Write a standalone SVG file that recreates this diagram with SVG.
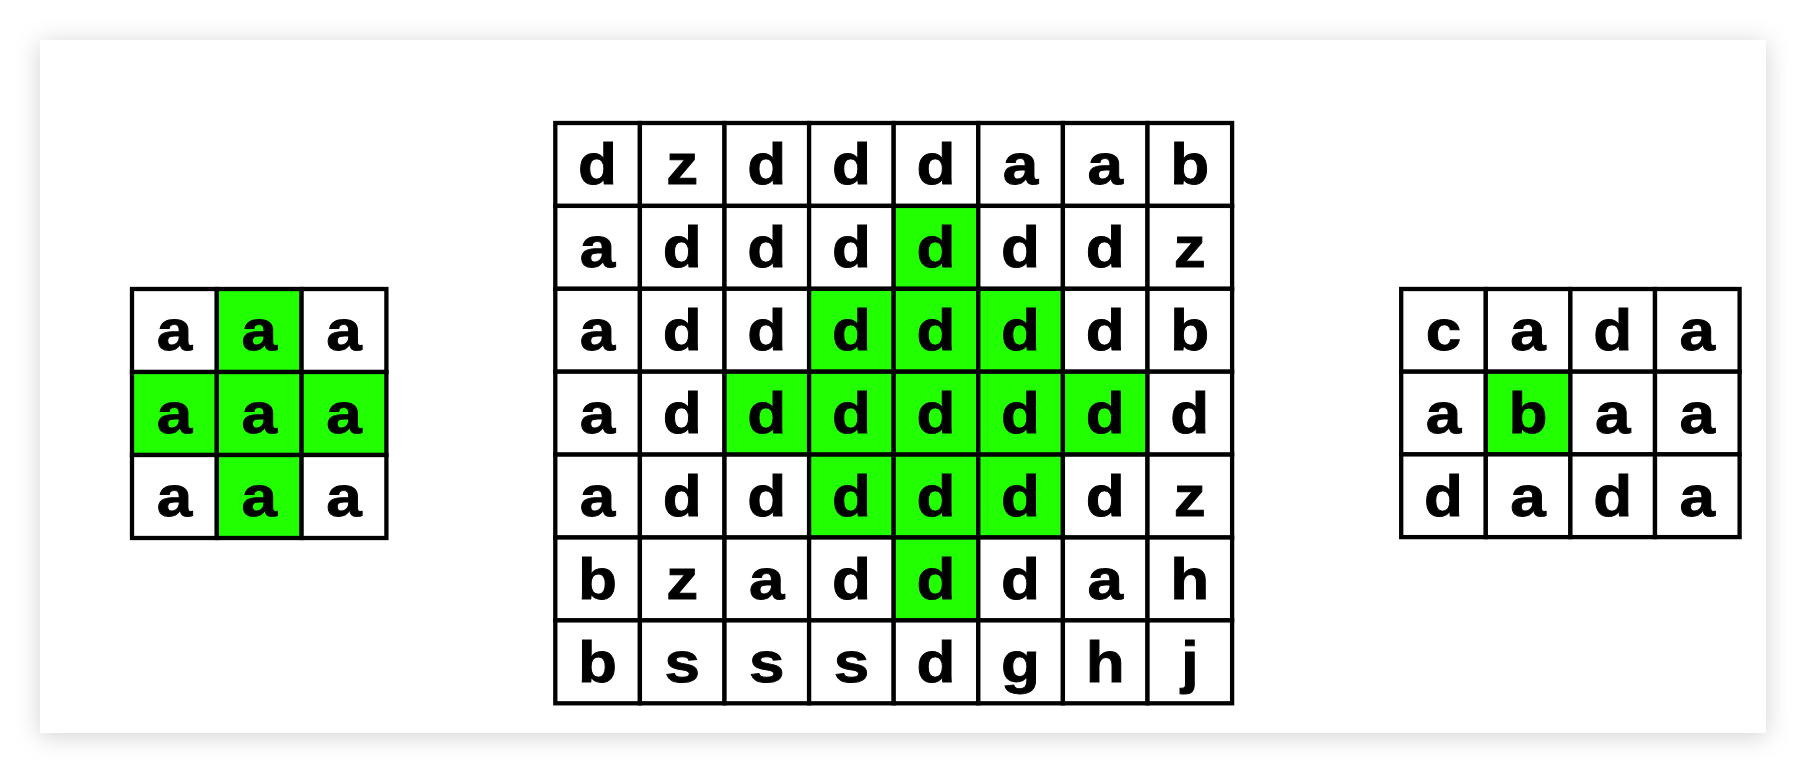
<svg xmlns="http://www.w3.org/2000/svg" width="1806" height="774" viewBox="0 0 1806 774">
<style>
.c{fill:#fff;stroke:#000;stroke-width:4.3}
.g{fill:#22ff00;stroke:#000;stroke-width:4.3}
.t{font-family:"Liberation Sans",Arial,sans-serif;font-weight:bold;font-size:58px;text-anchor:middle;fill:#000;stroke:#000;stroke-width:0.9;transform:scale(1.1,1)}
</style>
<defs>
<filter id="sh" x="-5%" y="-10%" width="110%" height="120%">
<feDropShadow dx="0" dy="3" stdDeviation="12" flood-color="#000" flood-opacity="0.18"/>
</filter>
</defs>
<rect width="1806" height="774" fill="#fff"/>
<rect id="card" x="40" y="40" width="1726" height="693" fill="#fff" filter="url(#sh)"/>
<g id="left-grid">
<g id="L-r0c0"><rect class="c" x="132" y="289" width="84.8" height="83"/><text class="t" x="158.55" y="350.5">a</text></g>
<g id="L-r0c1"><rect class="g" x="216.8" y="289" width="84.8" height="83"/><text class="t" x="235.64" y="350.5">a</text></g>
<g id="L-r0c2"><rect class="c" x="301.6" y="289" width="84.8" height="83"/><text class="t" x="312.73" y="350.5">a</text></g>
<g id="L-r1c0"><rect class="g" x="132" y="372" width="84.8" height="83"/><text class="t" x="158.55" y="433.5">a</text></g>
<g id="L-r1c1"><rect class="g" x="216.8" y="372" width="84.8" height="83"/><text class="t" x="235.64" y="433.5">a</text></g>
<g id="L-r1c2"><rect class="g" x="301.6" y="372" width="84.8" height="83"/><text class="t" x="312.73" y="433.5">a</text></g>
<g id="L-r2c0"><rect class="c" x="132" y="455" width="84.8" height="83"/><text class="t" x="158.55" y="516.5">a</text></g>
<g id="L-r2c1"><rect class="g" x="216.8" y="455" width="84.8" height="83"/><text class="t" x="235.64" y="516.5">a</text></g>
<g id="L-r2c2"><rect class="c" x="301.6" y="455" width="84.8" height="83"/><text class="t" x="312.73" y="516.5">a</text></g>
</g>
<g id="middle-grid">
<g id="M-r0c0"><rect class="c" x="555.3" y="123" width="84.6" height="82.9"/><text class="t" x="543.27" y="184.5">d</text></g>
<g id="M-r0c1"><rect class="c" x="639.9" y="123" width="84.6" height="82.9"/><text class="t" x="620.18" y="184.5">z</text></g>
<g id="M-r0c2"><rect class="c" x="724.5" y="123" width="84.6" height="82.9"/><text class="t" x="697.09" y="184.5">d</text></g>
<g id="M-r0c3"><rect class="c" x="809.1" y="123" width="84.6" height="82.9"/><text class="t" x="774" y="184.5">d</text></g>
<g id="M-r0c4"><rect class="c" x="893.7" y="123" width="84.6" height="82.9"/><text class="t" x="850.91" y="184.5">d</text></g>
<g id="M-r0c5"><rect class="c" x="978.3" y="123" width="84.6" height="82.9"/><text class="t" x="927.82" y="184.5">a</text></g>
<g id="M-r0c6"><rect class="c" x="1062.9" y="123" width="84.6" height="82.9"/><text class="t" x="1004.73" y="184.5">a</text></g>
<g id="M-r0c7"><rect class="c" x="1147.5" y="123" width="84.6" height="82.9"/><text class="t" x="1081.64" y="184.5">b</text></g>
<g id="M-r1c0"><rect class="c" x="555.3" y="205.9" width="84.6" height="82.9"/><text class="t" x="543.27" y="267.4">a</text></g>
<g id="M-r1c1"><rect class="c" x="639.9" y="205.9" width="84.6" height="82.9"/><text class="t" x="620.18" y="267.4">d</text></g>
<g id="M-r1c2"><rect class="c" x="724.5" y="205.9" width="84.6" height="82.9"/><text class="t" x="697.09" y="267.4">d</text></g>
<g id="M-r1c3"><rect class="c" x="809.1" y="205.9" width="84.6" height="82.9"/><text class="t" x="774" y="267.4">d</text></g>
<g id="M-r1c4"><rect class="g" x="893.7" y="205.9" width="84.6" height="82.9"/><text class="t" x="850.91" y="267.4">d</text></g>
<g id="M-r1c5"><rect class="c" x="978.3" y="205.9" width="84.6" height="82.9"/><text class="t" x="927.82" y="267.4">d</text></g>
<g id="M-r1c6"><rect class="c" x="1062.9" y="205.9" width="84.6" height="82.9"/><text class="t" x="1004.73" y="267.4">d</text></g>
<g id="M-r1c7"><rect class="c" x="1147.5" y="205.9" width="84.6" height="82.9"/><text class="t" x="1081.64" y="267.4">z</text></g>
<g id="M-r2c0"><rect class="c" x="555.3" y="288.8" width="84.6" height="82.9"/><text class="t" x="543.27" y="350.3">a</text></g>
<g id="M-r2c1"><rect class="c" x="639.9" y="288.8" width="84.6" height="82.9"/><text class="t" x="620.18" y="350.3">d</text></g>
<g id="M-r2c2"><rect class="c" x="724.5" y="288.8" width="84.6" height="82.9"/><text class="t" x="697.09" y="350.3">d</text></g>
<g id="M-r2c3"><rect class="g" x="809.1" y="288.8" width="84.6" height="82.9"/><text class="t" x="774" y="350.3">d</text></g>
<g id="M-r2c4"><rect class="g" x="893.7" y="288.8" width="84.6" height="82.9"/><text class="t" x="850.91" y="350.3">d</text></g>
<g id="M-r2c5"><rect class="g" x="978.3" y="288.8" width="84.6" height="82.9"/><text class="t" x="927.82" y="350.3">d</text></g>
<g id="M-r2c6"><rect class="c" x="1062.9" y="288.8" width="84.6" height="82.9"/><text class="t" x="1004.73" y="350.3">d</text></g>
<g id="M-r2c7"><rect class="c" x="1147.5" y="288.8" width="84.6" height="82.9"/><text class="t" x="1081.64" y="350.3">b</text></g>
<g id="M-r3c0"><rect class="c" x="555.3" y="371.7" width="84.6" height="82.9"/><text class="t" x="543.27" y="433.2">a</text></g>
<g id="M-r3c1"><rect class="c" x="639.9" y="371.7" width="84.6" height="82.9"/><text class="t" x="620.18" y="433.2">d</text></g>
<g id="M-r3c2"><rect class="g" x="724.5" y="371.7" width="84.6" height="82.9"/><text class="t" x="697.09" y="433.2">d</text></g>
<g id="M-r3c3"><rect class="g" x="809.1" y="371.7" width="84.6" height="82.9"/><text class="t" x="774" y="433.2">d</text></g>
<g id="M-r3c4"><rect class="g" x="893.7" y="371.7" width="84.6" height="82.9"/><text class="t" x="850.91" y="433.2">d</text></g>
<g id="M-r3c5"><rect class="g" x="978.3" y="371.7" width="84.6" height="82.9"/><text class="t" x="927.82" y="433.2">d</text></g>
<g id="M-r3c6"><rect class="g" x="1062.9" y="371.7" width="84.6" height="82.9"/><text class="t" x="1004.73" y="433.2">d</text></g>
<g id="M-r3c7"><rect class="c" x="1147.5" y="371.7" width="84.6" height="82.9"/><text class="t" x="1081.64" y="433.2">d</text></g>
<g id="M-r4c0"><rect class="c" x="555.3" y="454.6" width="84.6" height="82.9"/><text class="t" x="543.27" y="516.1">a</text></g>
<g id="M-r4c1"><rect class="c" x="639.9" y="454.6" width="84.6" height="82.9"/><text class="t" x="620.18" y="516.1">d</text></g>
<g id="M-r4c2"><rect class="c" x="724.5" y="454.6" width="84.6" height="82.9"/><text class="t" x="697.09" y="516.1">d</text></g>
<g id="M-r4c3"><rect class="g" x="809.1" y="454.6" width="84.6" height="82.9"/><text class="t" x="774" y="516.1">d</text></g>
<g id="M-r4c4"><rect class="g" x="893.7" y="454.6" width="84.6" height="82.9"/><text class="t" x="850.91" y="516.1">d</text></g>
<g id="M-r4c5"><rect class="g" x="978.3" y="454.6" width="84.6" height="82.9"/><text class="t" x="927.82" y="516.1">d</text></g>
<g id="M-r4c6"><rect class="c" x="1062.9" y="454.6" width="84.6" height="82.9"/><text class="t" x="1004.73" y="516.1">d</text></g>
<g id="M-r4c7"><rect class="c" x="1147.5" y="454.6" width="84.6" height="82.9"/><text class="t" x="1081.64" y="516.1">z</text></g>
<g id="M-r5c0"><rect class="c" x="555.3" y="537.5" width="84.6" height="82.9"/><text class="t" x="543.27" y="599">b</text></g>
<g id="M-r5c1"><rect class="c" x="639.9" y="537.5" width="84.6" height="82.9"/><text class="t" x="620.18" y="599">z</text></g>
<g id="M-r5c2"><rect class="c" x="724.5" y="537.5" width="84.6" height="82.9"/><text class="t" x="697.09" y="599">a</text></g>
<g id="M-r5c3"><rect class="c" x="809.1" y="537.5" width="84.6" height="82.9"/><text class="t" x="774" y="599">d</text></g>
<g id="M-r5c4"><rect class="g" x="893.7" y="537.5" width="84.6" height="82.9"/><text class="t" x="850.91" y="599">d</text></g>
<g id="M-r5c5"><rect class="c" x="978.3" y="537.5" width="84.6" height="82.9"/><text class="t" x="927.82" y="599">d</text></g>
<g id="M-r5c6"><rect class="c" x="1062.9" y="537.5" width="84.6" height="82.9"/><text class="t" x="1004.73" y="599">a</text></g>
<g id="M-r5c7"><rect class="c" x="1147.5" y="537.5" width="84.6" height="82.9"/><text class="t" x="1081.64" y="599">h</text></g>
<g id="M-r6c0"><rect class="c" x="555.3" y="620.4" width="84.6" height="82.9"/><text class="t" x="543.27" y="681.9">b</text></g>
<g id="M-r6c1"><rect class="c" x="639.9" y="620.4" width="84.6" height="82.9"/><text class="t" x="620.18" y="681.9">s</text></g>
<g id="M-r6c2"><rect class="c" x="724.5" y="620.4" width="84.6" height="82.9"/><text class="t" x="697.09" y="681.9">s</text></g>
<g id="M-r6c3"><rect class="c" x="809.1" y="620.4" width="84.6" height="82.9"/><text class="t" x="774" y="681.9">s</text></g>
<g id="M-r6c4"><rect class="c" x="893.7" y="620.4" width="84.6" height="82.9"/><text class="t" x="850.91" y="681.9">d</text></g>
<g id="M-r6c5"><rect class="c" x="978.3" y="620.4" width="84.6" height="82.9"/><text class="t" x="927.82" y="681.9">g</text></g>
<g id="M-r6c6"><rect class="c" x="1062.9" y="620.4" width="84.6" height="82.9"/><text class="t" x="1004.73" y="681.9">h</text></g>
<g id="M-r6c7"><rect class="c" x="1147.5" y="620.4" width="84.6" height="82.9"/><text class="t" x="1081.64" y="681.9">j</text></g>
</g>
<g id="right-grid">
<g id="R-r0c0"><rect class="c" x="1401.2" y="289" width="84.6" height="82.7"/><text class="t" x="1312.27" y="350.4">c</text></g>
<g id="R-r0c1"><rect class="c" x="1485.8" y="289" width="84.6" height="82.7"/><text class="t" x="1389.18" y="350.4">a</text></g>
<g id="R-r0c2"><rect class="c" x="1570.4" y="289" width="84.6" height="82.7"/><text class="t" x="1466.09" y="350.4">d</text></g>
<g id="R-r0c3"><rect class="c" x="1655" y="289" width="84.6" height="82.7"/><text class="t" x="1543" y="350.4">a</text></g>
<g id="R-r1c0"><rect class="c" x="1401.2" y="371.7" width="84.6" height="82.7"/><text class="t" x="1312.27" y="433.1">a</text></g>
<g id="R-r1c1"><rect class="g" x="1485.8" y="371.7" width="84.6" height="82.7"/><text class="t" x="1389.18" y="433.1">b</text></g>
<g id="R-r1c2"><rect class="c" x="1570.4" y="371.7" width="84.6" height="82.7"/><text class="t" x="1466.09" y="433.1">a</text></g>
<g id="R-r1c3"><rect class="c" x="1655" y="371.7" width="84.6" height="82.7"/><text class="t" x="1543" y="433.1">a</text></g>
<g id="R-r2c0"><rect class="c" x="1401.2" y="454.4" width="84.6" height="82.7"/><text class="t" x="1312.27" y="515.8">d</text></g>
<g id="R-r2c1"><rect class="c" x="1485.8" y="454.4" width="84.6" height="82.7"/><text class="t" x="1389.18" y="515.8">a</text></g>
<g id="R-r2c2"><rect class="c" x="1570.4" y="454.4" width="84.6" height="82.7"/><text class="t" x="1466.09" y="515.8">d</text></g>
<g id="R-r2c3"><rect class="c" x="1655" y="454.4" width="84.6" height="82.7"/><text class="t" x="1543" y="515.8">a</text></g>
</g>
<g id="connectors"/>
</svg>
